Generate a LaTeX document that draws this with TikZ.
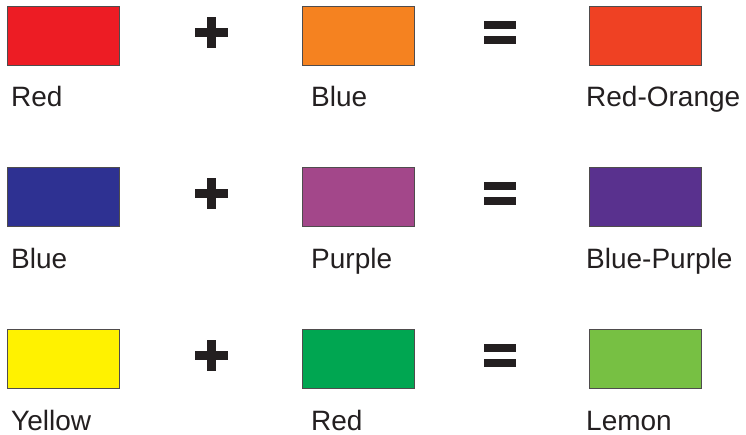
\documentclass[tikz,border=0pt]{standalone}
\usepackage{fontspec}
\setmainfont{Liberation Sans}
\definecolor{ink}{HTML}{231F20}
\definecolor{cRed}{HTML}{ED1C24}
\definecolor{cOrange}{HTML}{F58220}
\definecolor{cRedOrange}{HTML}{EF4123}
\definecolor{cBlue}{HTML}{2E3192}
\definecolor{cPurple}{HTML}{A3478A}
\definecolor{cBluePurple}{HTML}{59318E}
\definecolor{cYellow}{HTML}{FFF200}
\definecolor{cGreen}{HTML}{00A651}
\definecolor{cLemon}{HTML}{77C043}
\begin{document}
\begin{tikzpicture}[x=1pt, y=-1pt,
	swatch/.style={draw=ink!80, line width=0.9pt, anchor=north west, inner sep=0pt,
		minimum width=112pt, minimum height=59pt},
	colname/.style={anchor=base west, inner sep=0pt, text=ink, font=\fontsize{28}{30}\selectfont}]

	\useasboundingbox (0, 0) rectangle (746, 435);

	% row 1
	\node[swatch, fill=cRed] (r1a) at (7, 6) {};
	\node[swatch, fill=cOrange] (r1b) at (302, 6) {};
	\node[swatch, fill=cRedOrange] (r1c) at (589, 6) {};
	\node[colname] (t1a) at (11, 107) {Red};
	\node[colname] (t1b) at (311, 107) {Blue};
	\node[colname] (t1c) at (586, 107) {Red-Orange};
	% plus and equals
	\fill[ink] (195, 28) rectangle (228, 37);
	\fill[ink] (206.5, 17) rectangle (215.5, 48);
	\fill[ink] (484, 21) rectangle (516, 29);
	\fill[ink] (484, 36) rectangle (516, 44);

	\begin{scope}[yshift = -161.5pt]
	% row 2
	\node[swatch, fill=cBlue] (r2a) at (7, 6) {};
	\node[swatch, fill=cPurple] (r2b) at (302, 6) {};
	\node[swatch, fill=cBluePurple] (r2c) at (589, 6) {};
	\node[colname] (t2a) at (11, 107) {Blue};
	\node[colname] (t2b) at (311, 107) {Purple};
	\node[colname] (t2c) at (586, 107) {Blue-Purple};
	\fill[ink] (195, 28) rectangle (228, 37);
	\fill[ink] (206.5, 17) rectangle (215.5, 48);
	\fill[ink] (484, 21) rectangle (516, 29);
	\fill[ink] (484, 36) rectangle (516, 44);
	\end{scope}

	\begin{scope}[yshift = -323pt]
	% row 3
	\node[swatch, fill=cYellow] (r3a) at (7, 6) {};
	\node[swatch, fill=cGreen] (r3b) at (302, 6) {};
	\node[swatch, fill=cLemon] (r3c) at (589, 6) {};
	\node[colname] (t3a) at (11, 107) {Yellow};
	\node[colname] (t3b) at (311, 107) {Red};
	\node[colname] (t3c) at (586, 107) {Lemon};
	\fill[ink] (195, 28) rectangle (228, 37);
	\fill[ink] (206.5, 17) rectangle (215.5, 48);
	\fill[ink] (484, 21) rectangle (516, 29);
	\fill[ink] (484, 36) rectangle (516, 44);
	\end{scope}
\end{tikzpicture}
\end{document}
